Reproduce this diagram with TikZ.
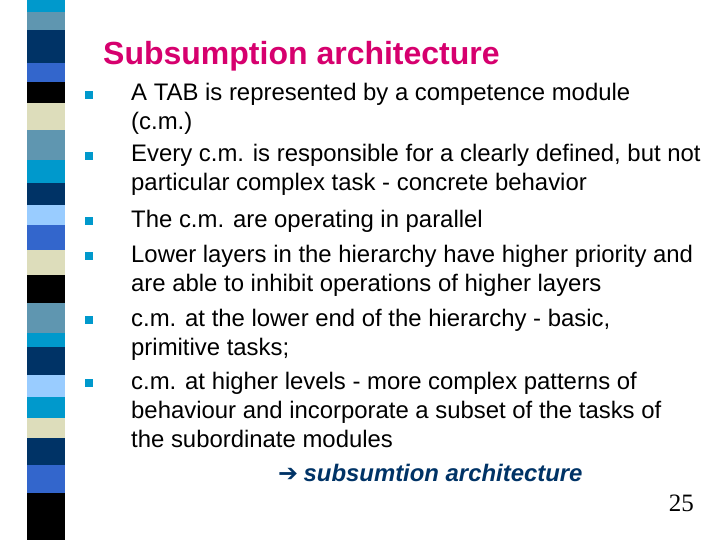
\documentclass[tikz,border=0pt]{standalone}
\usepackage{fontspec}
\setmainfont{Liberation Sans}
\newfontfamily\symfont{DejaVu Sans}
\usetikzlibrary{positioning}
\definecolor{cyanstripe}{HTML}{0099CC}
\definecolor{steelstripe}{HTML}{5F96B0}
\definecolor{navystripe}{HTML}{003366}
\definecolor{royalstripe}{HTML}{3366CC}
\definecolor{beigestripe}{HTML}{DDDDBB}
\definecolor{skystripe}{HTML}{99CCFF}
\definecolor{titlecol}{HTML}{D6006E}
\begin{document}
\begin{tikzpicture}[x=1pt, y=-1pt,
            bodytext/.style={anchor=base west, inner sep=0pt, font=\fontsize{23.9}{26}\selectfont},
            bulletbox/.style={fill=cyanstripe, minimum size=7.5pt, inner sep=0pt},
            ]
            \useasboundingbox (0,0) rectangle (720,540);
            % left stripe band
            \foreach \ya/\yb/\c in {0/12/cyanstripe, 12/30/steelstripe, 30/63/navystripe, 63/82/royalstripe,
                82/103/black, 103/130/beigestripe, 130/160/steelstripe, 160/183/cyanstripe,
                183/205/navystripe, 205/225/skystripe, 225/250/royalstripe, 250/275/beigestripe,
                275/303/black, 303/333/steelstripe, 333/347/cyanstripe, 347/375/navystripe,
                375/397/skystripe, 397/418/cyanstripe, 418/438/beigestripe, 438/465/navystripe,
                465/493/royalstripe, 493/540/black}
                \fill[\c] (27,\ya) rectangle (65,\yb);
            \node[anchor=base west, inner sep=0pt, text=titlecol, font=\fontsize{32}{35}\selectfont\bfseries]
                (title) at (103,65) {Subsumption architecture};
            % bullets
            \foreach \y [count=\i] in {93,154,219,254,318,381}
                \node[bulletbox] (b\i) at (89,\y+2) {};
            % text lines
            \foreach \y/\t [count=\i] in {
                93/{A TAB is represented by a competence module},
                122/{(c.m.)},
                154/{Every c.m. is responsible for a clearly defined, but not},
                183/{particular complex task - concrete behavior},
                219/{The c.m. are operating in parallel},
                254/{Lower layers in the hierarchy have higher priority and},
                283/{are able to inhibit operations of higher layers},
                318/{c.m. at the lower end of the hierarchy - basic,},
                347/{primitive tasks;},
                381/{c.m. at higher levels - more complex patterns of},
                410/{behaviour and incorporate a subset of the tasks of},
                439/{the subordinate modules}}
                \node[bodytext] (l\i) at (131,\y+8) {\t};
            \node[bodytext, text=navystripe] (arrow) at (278,481) {\symfont ➔};
            \node[bodytext, text=navystripe, font=\fontsize{23.9}{26}\selectfont\bfseries\itshape,
                right=5pt of arrow.base east, anchor=base west] (result) {subsumtion architecture};
            \node[anchor=base east, inner sep=0pt, font=\fontsize{25}{28}\selectfont\rmfamily]
                (page) at (694,511) {\fontspec{Liberation Serif}25};
        \end{tikzpicture}
\end{document}
